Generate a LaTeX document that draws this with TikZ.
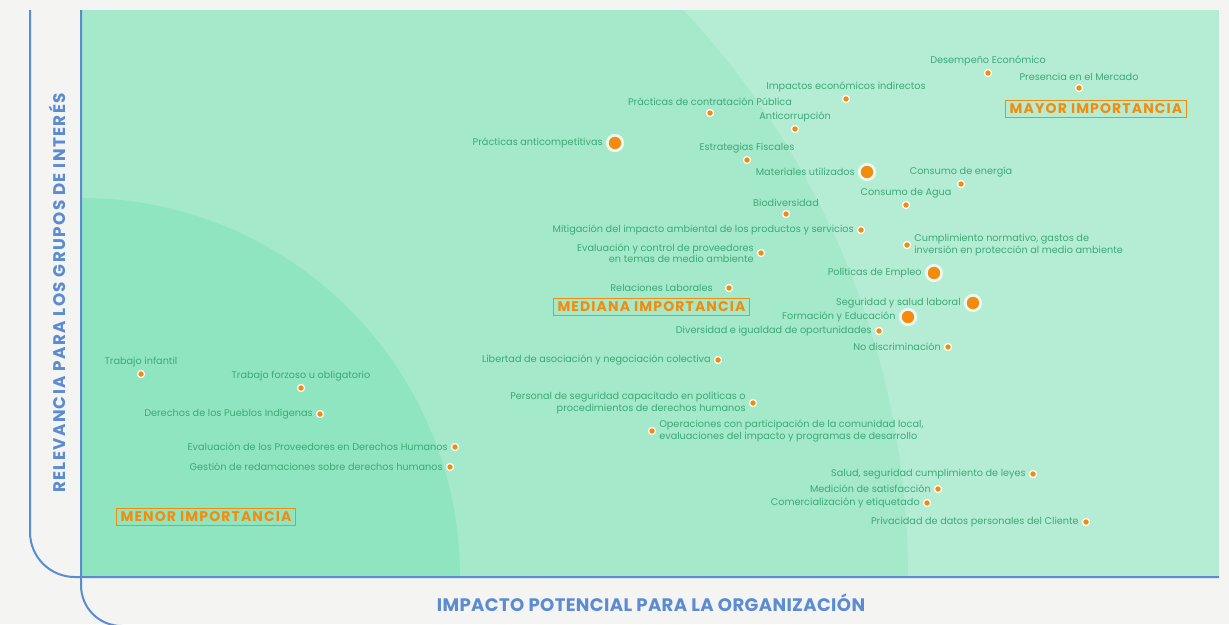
\documentclass[tikz,border=0pt]{standalone}
\usepackage{fontspec}
\setmainfont{Poppins}
\newfontfamily\spaced[LetterSpace=8]{Poppins}
\newfontfamily\spacedx[LetterSpace=2]{Poppins}
\usepackage{tikz}
\usetikzlibrary{positioning}
\definecolor{fondo}{HTML}{F4F4F3}
\definecolor{verdeuno}{HTML}{B4EDD4}
\definecolor{verdedos}{HTML}{A3E9CA}
\definecolor{verdetres}{HTML}{8FE5C0}
\definecolor{verdetexto}{HTML}{3DA977}
\definecolor{naranja}{HTML}{F58B0C}
\definecolor{anillo}{HTML}{E9F8F0}
\definecolor{azul}{HTML}{5B8BD1}

\begin{document}
\begin{tikzpicture}[x=1pt,y=-1pt,
		punto/.style={circle,fill=naranja,draw=white,line width=1.2pt,inner sep=0pt,minimum size=7pt},
		puntogrande/.style={circle,fill=naranja,draw=anillo,line width=2.8pt,inner sep=0pt,minimum size=15.5pt},
		tema/.style={text=verdetexto,font=\fontsize{9.7}{11.5}\selectfont,inner sep=0pt},
		nivel/.style={draw=naranja,text=naranja,line width=0.8pt,font=\spaced\fontsize{14}{16}\selectfont\bfseries,inner xsep=4pt,inner ysep=3.5pt},
		eje/.style={text=azul,inner sep=0pt}]
		\useasboundingbox (0,0) rectangle (1229,624);
		%Fill
		\fill[fondo] (0,0) rectangle (1229,624);
		\fill[verdeuno] (81,10) rectangle (1219,577);
		\begin{scope}
			\clip (81,10) rectangle (1219,577);
			\fill[verdedos] (81,577) circle[radius=827];
			\fill[verdetres] (81,577) circle[radius=379];
		\end{scope}
		%Axes
		\draw[azul,line width=2pt] (30,10) -- (30,532) .. controls (30,557) and (50,577) .. (75,577) -- (1219,577);
		\draw[azul,line width=2pt] (81,10) -- (81,585) .. controls (81,608) and (99,626) .. (122,626);
		\node[eje,rotate=90,font=\spaced\fontsize{16.8}{18}\selectfont\bfseries] (ejey) at (57,293) {RELEVANCIA PARA LOS GRUPOS DE INTERÉS};
		\node[eje,font=\spacedx\fontsize{18.1}{20}\selectfont\bfseries] (ejex) at (651,603) {IMPACTO POTENCIAL PARA LA ORGANIZACIÓN};
		%Levels
		\node[nivel] (mayor) at (1096,109) {MAYOR IMPORTANCIA};
		\node[nivel] (mediana) at (651.5,307) {MEDIANA IMPORTANCIA};
		\node[nivel] (menor) at (206,517) {MENOR IMPORTANCIA};
		%Topics, label above
		\foreach \x/\y/\n/\t in {710/113/a1/{Prácticas de contratación Pública},
				846/99/a2/{Impactos económicos indirectos},
				795/129/a3/{Anticorrupción},
				747/160/a4/{Estrategias Fiscales},
				786/214/a5/{Biodiversidad},
				988/73/a6/{Desempeño Económico},
				1079/88/a7/{Presencia en el Mercado},
				961/184/a8/{Consumo de energía},
				906/205/a9/{Consumo de Agua},
				141/374/a10/{Trabajo infantil},
				301/388/a11/{Trabajo forzoso u obligatorio}}
			{\node[punto] (d\n) at (\x,\y) {};
			\node[tema,above=3pt of d\n] (l\n) {\t};}
		%Topics, label left
		\foreach \x/\y/\n/\t in {861/230/b1/{Mitigación del impacto ambiental de los productos y servicios},
				761/253/b2/{Evaluación y control de proveedores\\en temas de medio ambiente},
				879/331/b3/{Diversidad e igualdad de oportunidades},
				718/360/b4/{Libertad de asociación y negociación colectiva},
				753/403/b5/{Personal de seguridad capacitado en politicas o\\procedimientos de derechos humanos},
				948/347/b6/{No discriminación},
				320/414/b7/{Derechos de los Pueblos Indígenas},
				455/447/b8/{Evaluación de los Proveedores en Derechos Humanos},
				450/467/b9/{Gestión de redamaciones sobre derechos humanos},
				1033/474/b10/{Salud, seguridad cumplimiento de leyes},
				938/489/b11/{Medición de satisfacción},
				927/503/b12/{Comercialización y etiquetado},
				1086/522/b13/{Privacidad de datos personales del Cliente}}
			{\node[punto] (d\n) at (\x,\y) {};
			\node[tema,align=right,left=3pt of d\n] (l\n) {\t};}
		\node[punto] (db14) at (729,288) {};
		\node[tema,left=12pt of db14] (lb14) {Relaciones Laborales};
		%Topics, label right
		\foreach \x/\y/\n/\t in {652/431/c1/{Operaciones con participación de la comunidad local,\\evaluaciones del impacto y programas de desarrollo},
				907/245/c2/{Cumplimiento normativo, gastos de\\inversión en protección al medio ambiente}}
			{\node[punto] (d\n) at (\x,\y) {};
			\node[tema,align=left,right=3pt of d\n] (l\n) {\t};}
		%Main topics
		\foreach \x/\y/\n/\t in {615/143/g1/{Prácticas anticompetitivas},
				867/172/g2/{Materiales utilizados},
				934/273/g3/{Políticas de Empleo},
				973/303/g4/{Seguridad y salud laboral},
				908/317/g5/{Formación y Educación}}
			{\node[puntogrande] (d\n) at (\x,\y) {};
			\node[tema,left=3pt of d\n] (l\n) {\t};}
\end{tikzpicture}
\end{document}
